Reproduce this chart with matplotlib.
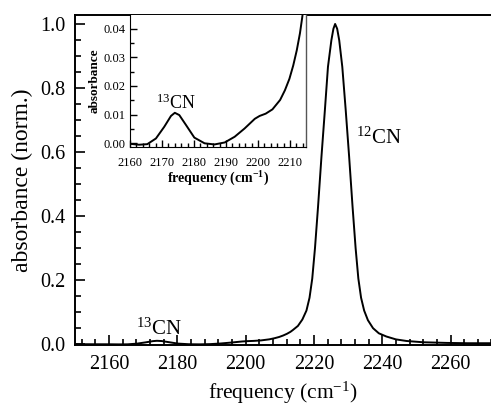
import matplotlib
matplotlib.use("Agg")
import matplotlib.pyplot as plt
from matplotlib.ticker import MultipleLocator

plt.rcParams["font.family"] = ["Liberation Serif", "DejaVu Serif"]
plt.rcParams["mathtext.default"] = "regular"

# CN stretch region, normalized absorbance (12CN peak = 1)
freq = [2150.0, 2155.0, 2160.2, 2162.8, 2165.4, 2168.1, 2170.7, 2172.8, 2174.0,
        2175.4, 2177.5, 2180.1, 2183.3, 2186.4, 2189.6, 2192.7, 2195.8, 2199.0,
        2200.5, 2202.4, 2204.5, 2206.9, 2208.4, 2209.8, 2211.0, 2212.1, 2213.1,
        2213.8, 2215.3, 2216.6, 2217.8, 2218.7, 2219.5, 2220.3, 2221.2, 2222.2,
        2223.2, 2224.1, 2225.1, 2225.7, 2226.2, 2226.8, 2227.4, 2228.3, 2229.3,
        2230.3, 2231.3, 2232.2, 2233.0, 2233.8, 2234.7, 2235.8, 2237.3, 2239.0,
        2241.2, 2244.0, 2247.1, 2252.0, 2258.8, 2265.0, 2272.0]
absorb = [0.0, -0.0002, -0.0003, -0.0006, -0.0004, 0.0016, 0.0057, 0.0095, 0.0106,
          0.0098, 0.0063, 0.0019, -0.0001, -0.0005, 0.0002, 0.0022, 0.0051, 0.0085,
          0.0095, 0.0103, 0.0118, 0.0151, 0.0185, 0.0225, 0.0272, 0.0325, 0.0385,
          0.0440, 0.057, 0.077, 0.105, 0.145, 0.205, 0.300, 0.430, 0.586,
          0.731, 0.866, 0.949, 0.985, 1.0, 0.985, 0.949, 0.866, 0.731,
          0.586, 0.430, 0.300, 0.205, 0.145, 0.105, 0.075, 0.050, 0.034,
          0.024, 0.015, 0.010, 0.006, 0.004, 0.003, 0.003]

fig = plt.figure(figsize=(4.91, 4.05), dpi=100)
ax = fig.add_axes([0.1527, 0.147, 0.8483, 0.816])
ax.plot(freq, absorb, color="black", lw=1.4)
ax.set_xlim(2150, 2272)
ax.set_ylim(-0.004, 1.028)
ax.xaxis.set_major_locator(MultipleLocator(20))
ax.xaxis.set_minor_locator(MultipleLocator(4))
ax.yaxis.set_major_locator(MultipleLocator(0.2))
ax.yaxis.set_minor_locator(MultipleLocator(0.05))
ax.yaxis.set_major_formatter(plt.FormatStrFormatter("%.1f"))
ax.tick_params(which="both", direction="in", top=False, right=False,
               labelsize=14.5, width=1.2)
ax.tick_params(which="major", length=7, pad=7)
ax.tick_params(which="minor", length=4)
for s in ax.spines.values():
    s.set_linewidth(1.4)
ax.spines["right"].set_visible(False)
ax.set_xlabel("frequency (cm$^{-1}$)", fontsize=15.5, labelpad=4)
ax.set_ylabel("absorbance (norm.)", fontsize=17, labelpad=5)
ax.text(2168, 0.03, "$^{13}$CN", fontsize=15)
ax.text(2232.3, 0.625, "$^{12}$CN", fontsize=15)

# zoom on the 13CN band
ins = fig.add_axes([0.2648, 0.637, 0.3585, 0.326])
ins.plot(freq, absorb, color="black", lw=1.4)
ins.set_xlim(2160, 2215)
ins.set_ylim(-0.0014, 0.0449)
ins.xaxis.set_major_locator(MultipleLocator(10))
ins.xaxis.set_minor_locator(MultipleLocator(2))
ins.yaxis.set_major_locator(MultipleLocator(0.01))
ins.yaxis.set_minor_locator(MultipleLocator(0.005))
ins.yaxis.set_major_formatter(plt.FormatStrFormatter("%.2f"))
ins.tick_params(which="both", direction="in", top=False, right=False,
                labelsize=9, width=1.0)
ins.tick_params(axis="x", which="major", length=5, pad=7)
ins.tick_params(axis="y", which="major", length=5, pad=3)
ins.tick_params(which="minor", length=3)
ins.spines["top"].set_visible(False)
ins.spines["right"].set_color("#555555")
ins.spines["right"].set_linewidth(1.0)
ins.set_xlabel("frequency (cm$^{-1}$)", fontsize=10, fontweight="bold", labelpad=1)
ins.set_ylabel("absorbance", fontsize=9.5, fontweight="bold", labelpad=2)
ins.text(2168.2, 0.0118, "$^{13}$CN", fontsize=13)

fig.savefig("out.png", dpi=100)
